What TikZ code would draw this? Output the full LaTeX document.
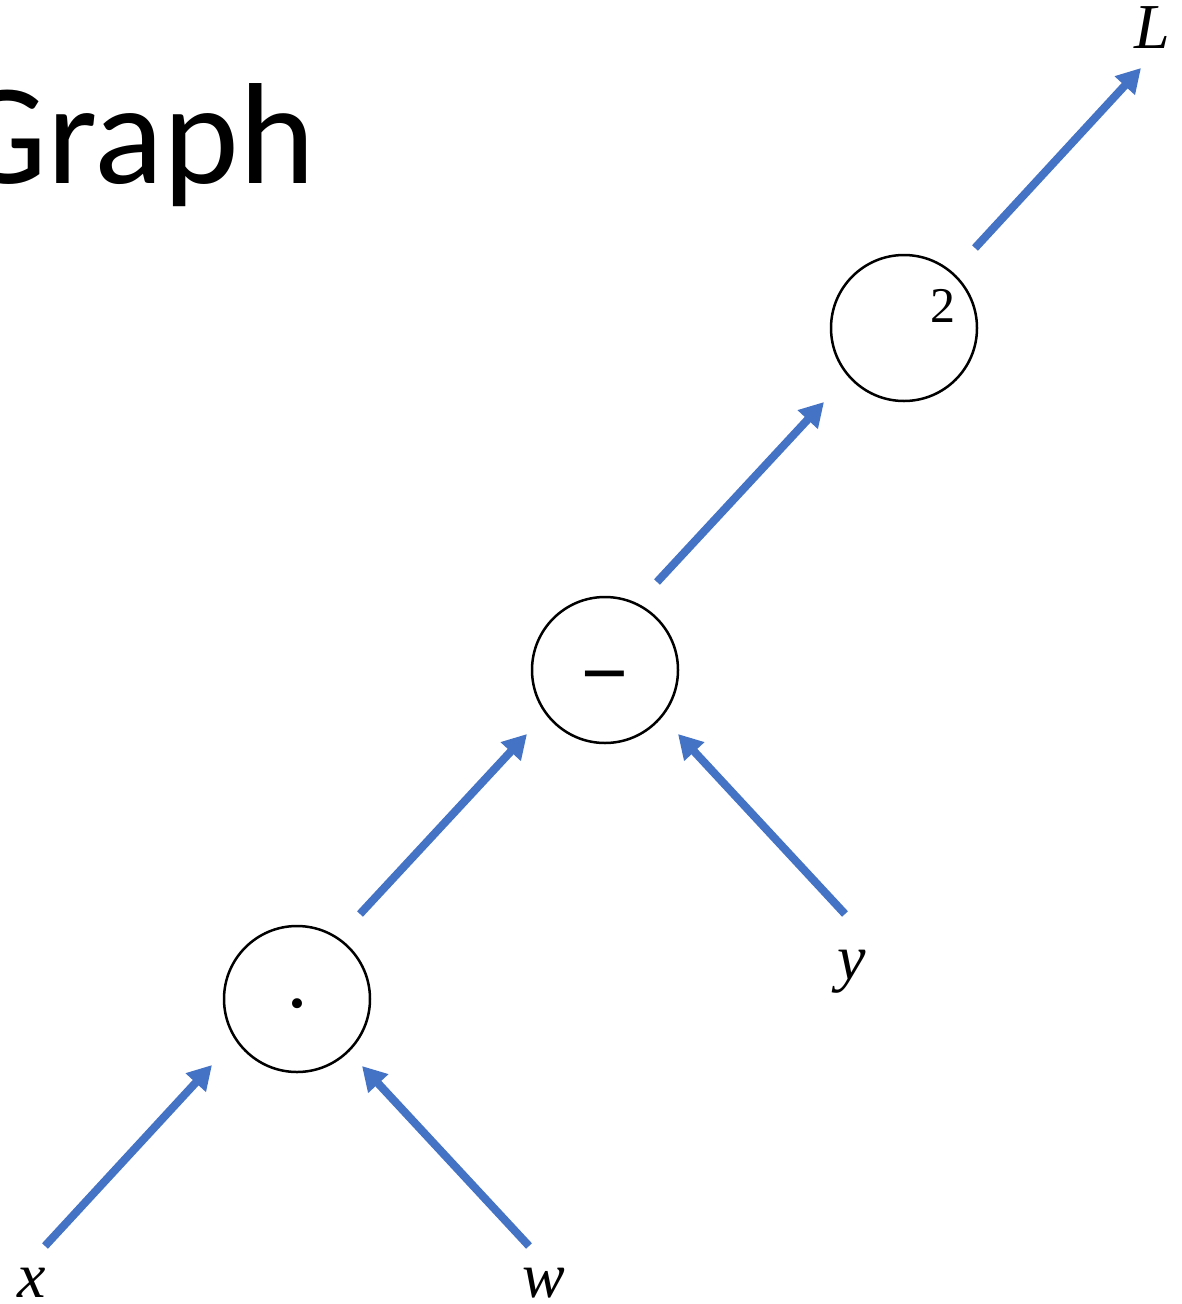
\documentclass[tikz,border=0pt]{standalone}
\usepackage{fontspec}
\newfontfamily\calibri{Carlito}
\newfontfamily\serifvar{Liberation Serif}
\newfontfamily\sansop{Liberation Sans}
\usetikzlibrary{arrows.meta}
\definecolor{arrowblue}{HTML}{4472C4}
\tikzset{
  opnode/.style={draw=black, line width=2.5pt, circle, minimum size=146pt, inner sep=0pt},
  flow/.style={draw=arrowblue, line width=8pt, -{Triangle[length=24pt,width=26pt]}},
  var/.style={inner sep=0pt, anchor=base, font=\serifvar\itshape\fontsize{64}{70}\selectfont},
  oplab/.style={inner sep=0pt},
}
\begin{document}
\begin{tikzpicture}[x=1pt,y=-1pt]
\useasboundingbox (0,0) rectangle (1181,1304);
\clip (0,0) rectangle (1181,1304);
\fill[white] (0,0) rectangle (1181,1304);

% title (cut at left edge)
\node[anchor=base east, inner sep=0pt, font=\calibri\fontsize{144}{160}\selectfont] (title) at (315,183) {Graph};

% operation nodes
\node[opnode] (sq) at (904,328) {};
\node[oplab, anchor=base, font=\serifvar\fontsize{50}{56}\selectfont] (sqlab) at (943,322) {2};
\node[opnode] (sub) at (605,670) {};
\node[oplab, font=\sansop\fontsize{80}{90}\selectfont] (sublab) at (605,686) {−};
\node[opnode] (dot) at (297,999) {};
\node[oplab, font=\serifvar\fontsize{84}{90}\selectfont] (dotlab) at (297,1015) {·};

% variables
\node[var] (L) at (1152,48) {L};
\node[var] (y) at (852,979) {y};
\node[var] (x) at (32,1297) {x};
\node[var] (w) at (544,1297) {w};

% arrow end points
\coordinate (sqOut) at (975,248);
\coordinate (LIn) at (1141,68);
\coordinate (subOut) at (657,582);
\coordinate (sqIn) at (824,402);
\coordinate (dotOut) at (360,914);
\coordinate (subInL) at (527,734);
\coordinate (yOut) at (845,914);
\coordinate (subInR) at (678,734);
\coordinate (xOut) at (45,1246);
\coordinate (dotInL) at (212,1065);
\coordinate (wOut) at (529,1246);
\coordinate (dotInR) at (362,1066);

\draw[flow] (sqOut) -- (LIn);
\draw[flow] (subOut) -- (sqIn);
\draw[flow] (dotOut) -- (subInL);
\draw[flow] (yOut) -- (subInR);
\draw[flow] (xOut) -- (dotInL);
\draw[flow] (wOut) -- (dotInR);
\end{tikzpicture}
\end{document}
